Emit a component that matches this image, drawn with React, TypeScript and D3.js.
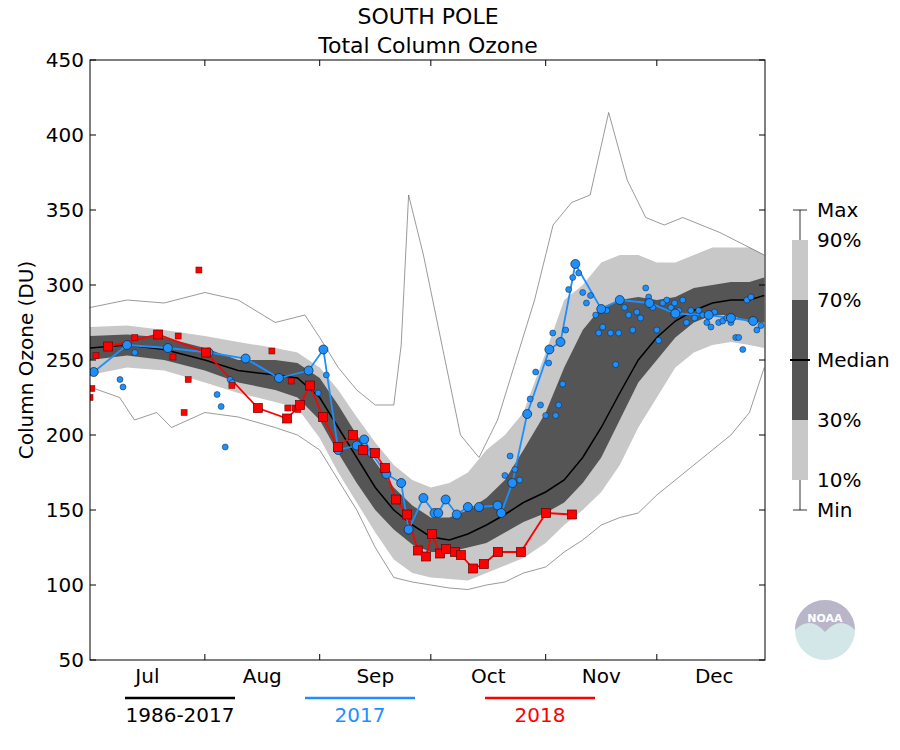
import React from "react";
import * as d3 from "d3";

const climDays = [0,10,20,31,40,50,56,62,67,72,77,82,87,92,97,102,107,112,117,123,128,133,138,143,148,153,158,163,168,173,178,182];
const median = [258,260,257,250,243,240,238,225,205,185,165,150,140,132,130,134,140,147,155,162,170,185,205,228,250,265,276,283,288,290,290,293];
const p30 = [250,253,250,243,235,230,225,210,188,168,150,137,127,122,122,125,128,135,142,148,155,168,185,210,235,250,265,275,280,280,275,275];
const p70 = [266,267,265,258,250,250,248,238,220,200,182,165,153,145,145,150,158,170,190,215,245,270,285,290,292,290,292,298,300,302,302,305];
const p10 = [240,245,243,235,228,222,218,198,175,155,135,117,108,105,104,103,108,113,118,128,140,150,162,180,205,225,245,255,260,262,260,258];
const p90 = [272,273,270,266,262,258,255,245,230,212,195,180,170,165,168,175,190,200,215,255,290,300,315,320,320,315,315,320,325,325,325,320];
const maxDays = [0,10,20,31,40,50,58,62,67,72,77,82,84,86,90,95,100,105,110,115,120,125,130,135,140,145,150,155,160,170,182];
const maxVals = [285,290,288,295,290,275,280,265,245,230,220,220,260,360,320,260,200,185,210,250,290,340,355,360,415,370,345,340,345,335,320];
const minDays = [0,8,12,18,22,31,40,50,56,62,67,72,77,82,87,92,97,102,107,112,117,123,128,133,138,143,148,153,158,163,168,173,178,182];
const minVals = [232,225,210,215,205,215,212,205,200,190,170,150,125,105,102,100,98,97,100,102,108,112,122,130,140,145,148,160,170,180,190,200,215,245];

const blueLine: [number, number][] = [[1,242],[10,260],[21,258],[32,255],[42,251],[51,238],[59,243],[63,257],[67,190],[72,193],[74,197],[76,188],[80,174],[84,168],[86,137],[90,158],[93,148],[94,148],[96,157],[99,147],[102,152],[105,152],[110,153],[111,148],[114,168],[118,214],[124,257],[127,262],[131,314],[138,284],[143,290],[151,288],[158,281],[167,280],[173,278],[179,276]];
const blueDots: [number, number][] = [[8.1,237],[8.9,232],[12.1,255],[34.3,227],[35.4,219],[36.5,192],[37.8,237],[38.4,235],[61.6,228],[63.8,240],[112,173],[113.4,186],[114.7,177],[116,170],[118.8,224],[120.3,242],[121.6,220],[123,213],[123.8,248],[124.9,268],[125.7,213],[126.5,220],[127.6,234],[128.4,270],[129.2,297],[130.3,305],[131.9,308],[133,295],[134,288],[135.1,293],[136.5,280],[137.3,268],[138.4,272],[139.5,283],[140.5,268],[141.9,247],[142.7,268],[144.3,285],[145.4,280],[146.5,270],[147.6,282],[148.6,278],[150,298],[150.8,292],[151.9,285],[153,270],[153.5,263],[154.6,288],[155.7,290],[156.8,285],[157.8,288],[158.9,283],[160,290],[161,275],[162.2,283],[163.2,278],[164.3,283],[165.4,280],[166.5,275],[167.6,272],[168.6,282],[169.7,275],[170.8,276],[171.9,278],[173,275],[174.3,265],[175.1,265],[176.2,257],[177.3,290],[178.4,292],[180,270],[181.1,273]];
const redLine: [number, number][] = [[4.9,259],[18.4,267],[31.3,255],[45.3,218],[53.2,211],[56.7,220],[59.4,233],[62.9,212],[66.9,192],[71,200],[73.7,190],[76.9,188],[79.6,178],[82.6,157],[85.6,147],[88.5,123],[90.7,119],[92.3,134],[94.5,121],[96.1,124],[98.5,122],[100.1,120],[103.4,111],[106.3,114],[110.1,122],[116.3,122],[123.1,148],[130.1,147]];
const redDots: [number, number][] = [[0,225],[0.5,231],[1.6,253],[12.1,265],[22.4,252],[23.8,266],[25.4,215],[26.5,237],[29.4,310],[38.3,233],[49.1,256],[53.4,218],[54.3,236],[55.3,218],[56.1,217]];
const months = ["Jul","Aug","Sep","Oct","Nov","Dec"];
const monthStart = [0,31,62,92,123,153,184];
const yTicks = [50,100,150,200,250,300,350,400,450];

const L = 90, R = 765, T = 60, B = 660;
const x = d3.scaleLinear().domain([0, 182.2]).range([L, R]);
const y = d3.scaleLinear().domain([50, 450]).range([B, T]);
const F = "DejaVu Sans, sans-serif";
const BLUE = "#1e8fff", RED = "#ff0000";

function band(lo: number[], hi: number[]) {
  const a = d3.area<number>().x((_, i) => x(climDays[i])).y0((_, i) => y(lo[i])).y1((_, i) => y(hi[i]));
  return a(climDays) || "";
}
const lineD = d3.line<number>().x((_, i) => x(climDays[i])).y(v => y(v));
const ptLine = d3.line<[number, number]>().x(d => x(d[0])).y(d => y(d[1]));

export default function App() {
  const maxPts = maxDays.map((d, i) => [d, maxVals[i]] as [number, number]);
  const minPts = minDays.map((d, i) => [d, minVals[i]] as [number, number]);
  return (
    <svg width={900} height={750} style={{ position: "absolute", left: 0, top: 0, background: "#fff" }} fontFamily={F}>
      <defs><clipPath id="c"><rect x={L} y={T} width={R - L} height={B - T} /></clipPath></defs>
      <text x={428} y={24} textAnchor="middle" fontSize={22}>SOUTH POLE</text>
      <text x={428} y={53} textAnchor="middle" fontSize={22}>Total Column Ozone</text>
      <g clipPath="url(#c)">
        <path d={band(p10, p90)} fill="#c8c8c8" />
        <path d={band(p30, p70)} fill="#555555" />
        <path d={lineD(median) || ""} fill="none" stroke="#000" strokeWidth={1.5} />
        <path d={ptLine(maxPts) || ""} fill="none" stroke="#555" strokeWidth={0.6} />
        <path d={ptLine(minPts) || ""} fill="none" stroke="#555" strokeWidth={0.6} />
        <path d={ptLine(blueLine) || ""} fill="none" stroke={BLUE} strokeWidth={1.8} />
        <path d={ptLine(redLine) || ""} fill="none" stroke={RED} strokeWidth={1.8} />
        {blueDots.map((d, i) => <circle key={"bd" + i} cx={x(d[0])} cy={y(d[1])} r={3} fill={BLUE} stroke="#123" strokeWidth={0.5} />)}
        {blueLine.map((d, i) => <circle key={"bl" + i} cx={x(d[0])} cy={y(d[1])} r={4.5} fill={BLUE} stroke="#123" strokeWidth={0.7} />)}
        {redDots.map((d, i) => <rect key={"rd" + i} x={x(d[0]) - 3} y={y(d[1]) - 3} width={6} height={6} fill={RED} stroke="#600" strokeWidth={0.5} />)}
        {redLine.map((d, i) => <rect key={"rl" + i} x={x(d[0]) - 4.5} y={y(d[1]) - 4.5} width={9} height={9} fill={RED} stroke="#600" strokeWidth={0.7} />)}
      </g>
      <rect x={L} y={T} width={R - L} height={B - T} fill="none" stroke="#000" strokeWidth={1} />
      {yTicks.map(t => (
        <g key={t}>
          <line x1={L} x2={L + 6} y1={y(t)} y2={y(t)} stroke="#000" />
          <line x1={R} x2={R - 6} y1={y(t)} y2={y(t)} stroke="#000" />
          <text x={L - 6} y={y(t) + 7} textAnchor="end" fontSize={20}>{t}</text>
        </g>
      ))}
      {monthStart.slice(1, 6).map(m => (
        <g key={m}>
          <line x1={x(m)} x2={x(m)} y1={B} y2={B - 6} stroke="#000" />
          <line x1={x(m)} x2={x(m)} y1={T} y2={T + 6} stroke="#000" />
        </g>
      ))}
      {months.map((m, i) => (
        <text key={m} x={x((monthStart[i] + monthStart[i + 1]) / 2)} y={683} textAnchor="middle" fontSize={20}>{m}</text>
      ))}
      <text transform={`translate(33,${y(250)}) rotate(-90)`} textAnchor="middle" fontSize={20}>Column Ozone (DU)</text>
      {/* right legend */}
      <g>
        <line x1={800} x2={800} y1={210} y2={240} stroke="#000" strokeWidth={0.8} />
        <line x1={793} x2={807} y1={210} y2={210} stroke="#000" strokeWidth={0.8} />
        <line x1={800} x2={800} y1={480} y2={510} stroke="#000" strokeWidth={0.8} />
        <line x1={793} x2={807} y1={510} y2={510} stroke="#000" strokeWidth={0.8} />
        <rect x={792} y={240} width={16} height={60} fill="#c8c8c8" />
        <rect x={792} y={300} width={16} height={120} fill="#555555" />
        <rect x={792} y={420} width={16} height={60} fill="#c8c8c8" />
        <line x1={790} x2={810} y1={360} y2={360} stroke="#000" strokeWidth={2} />
        {[["Max",210],["90%",240],["70%",300],["Median",360],["30%",420],["10%",480],["Min",510]].map(([s, v]) => (
          <text key={s as string} x={817} y={(v as number) + 7} fontSize={20}>{s}</text>
        ))}
      </g>
      {/* bottom legend */}
      {[["1986-2017","#000",180],["2017",BLUE,360],["2018",RED,540]].map(([s, c, cx]) => (
        <g key={s as string}>
          <line x1={(cx as number) - 55} x2={(cx as number) + 55} y1={698} y2={698} stroke={c as string} strokeWidth={2.5} />
          <text x={cx as number} y={722} textAnchor="middle" fontSize={20} fill={c as string}>{s}</text>
        </g>
      ))}
      {/* logo */}
      <g>
        <circle cx={825} cy={630} r={30} fill="#d3e6e8" />
        <path d="M795,630 A30,30 0 0 1 855,630 Q840,615 825,632 Q810,615 795,630 Z" fill="#b8b6c8" />
        <text x={825} y={622} textAnchor="middle" fontSize={11} fill="#fff" fontWeight="bold">NOAA</text>
      </g>
    </svg>
  );
}
